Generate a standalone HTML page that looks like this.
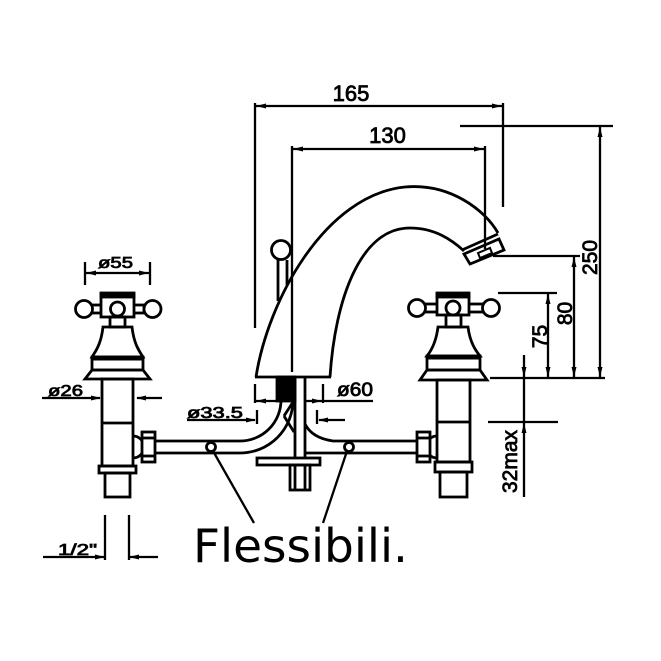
<!DOCTYPE html>
<html><head><meta charset="utf-8"><style>
html,body{margin:0;padding:0;background:#fff;}
svg{display:block;}
text{font-family:"Liberation Sans",sans-serif;fill:#000;}
</style></head><body>
<svg width="661" height="661" viewBox="0 0 661 661" xmlns="http://www.w3.org/2000/svg">
<rect width="661" height="661" fill="#fff"/>
<g fill="none" stroke="#000" stroke-width="2.8" stroke-linecap="butt" stroke-linejoin="miter">
<!-- spout body -->
<path d="M256,377 C268,300 325,195 405,187 C450,183 485,210 498,233"/>
<path d="M330,377 C335,300 360,228 410,228 C435,228 452,240 464,251"/>
<line x1="255" y1="377" x2="331" y2="377"/>
<line x1="462" y1="250" x2="498" y2="234"/>
<polygon points="464,254 499,239 504,250 470,264"/>
<polygon points="478,253 490,248 492,253 480,258" stroke-width="2"/>
<!-- lever -->
<circle cx="281" cy="250" r="9.5"/>
<line x1="278" y1="260" x2="278" y2="301"/>
<line x1="287" y1="260" x2="287" y2="285"/>
</g>
<g fill="none" stroke="#000" stroke-width="2.3">
<!-- 165 -->
<line x1="255" y1="106" x2="503" y2="106"/>
<line x1="255" y1="103" x2="255" y2="328"/>
<line x1="503" y1="103" x2="503" y2="207"/>
<!-- 130 -->
<line x1="292" y1="149" x2="485" y2="149"/>
<line x1="292" y1="146" x2="292" y2="372"/>
<line x1="485" y1="146" x2="485" y2="249"/>
<!-- top ref -->
<line x1="460" y1="126" x2="613" y2="126"/>
<!-- 250 -->
<line x1="600" y1="126" x2="600" y2="378"/>
<line x1="490" y1="378" x2="605" y2="378"/>
<!-- 80 -->
<line x1="574" y1="256" x2="574" y2="378"/>
<line x1="493" y1="256" x2="580" y2="256"/>
<!-- 75 -->
<line x1="548" y1="293" x2="548" y2="378"/>
<line x1="498" y1="293" x2="557" y2="293"/>
<!-- 32max -->
<line x1="524" y1="355" x2="524" y2="497"/>
<line x1="488" y1="422" x2="558" y2="422"/>
<!-- ø55 -->
<line x1="85" y1="273" x2="150" y2="273"/>
<line x1="85" y1="262" x2="85" y2="285"/>
<line x1="150" y1="262" x2="150" y2="285"/>
<!-- ø26 -->
<line x1="42" y1="398" x2="100" y2="398"/>
<line x1="137" y1="398" x2="162" y2="398"/>
<!-- ø33.5 -->
<line x1="187" y1="420" x2="255" y2="420"/>
<line x1="257" y1="410" x2="257" y2="424"/>
<line x1="317" y1="410" x2="317" y2="424"/>
<line x1="319" y1="420" x2="345" y2="420"/>
<!-- ø60 -->
<line x1="255" y1="384" x2="255" y2="403"/>
<line x1="323" y1="384" x2="323" y2="403"/>
<line x1="255" y1="401" x2="277" y2="401"/>
<line x1="305" y1="401" x2="373" y2="401"/>
<!-- 1/2" -->
<line x1="43" y1="557" x2="105" y2="557"/>
<line x1="105" y1="515" x2="105" y2="560"/>
<line x1="129" y1="515" x2="129" y2="560"/>
<line x1="129" y1="557" x2="158" y2="557"/>
<!-- leaders -->
<line x1="213" y1="451" x2="254" y2="523"/>
<line x1="347" y1="451" x2="323" y2="523"/>
</g>
<!-- arrowheads -->
<g fill="#000" stroke="none">
<polygon points="256,106 266,103.5 266,108.5"/>
<polygon points="502,106 492,103.5 492,108.5"/>
<polygon points="293,149 303,146.5 303,151.5"/>
<polygon points="484,149 474,146.5 474,151.5"/>
<polygon points="600,127 597.5,137 602.5,137"/>
<polygon points="600,377 597.5,367 602.5,367"/>
<polygon points="574,257 571.5,267 576.5,267"/>
<polygon points="574,377 571.5,367 576.5,367"/>
<polygon points="548,294 545.5,304 550.5,304"/>
<polygon points="548,377 545.5,367 550.5,367"/>
<polygon points="524,377 521.5,367 526.5,367"/>
<polygon points="524,423 521.5,433 526.5,433"/>
<polygon points="86,273 96,270.5 96,275.5"/>
<polygon points="149,273 139,270.5 139,275.5"/>
<polygon points="101,398 91,395.5 91,400.5"/>
<polygon points="136,398 146,395.5 146,400.5"/>
<polygon points="256,420 246,417.5 246,422.5"/>
<polygon points="318,420 328,417.5 328,422.5"/>
<polygon points="256,401 266,398.5 266,403.5"/>
<polygon points="322,401 312,398.5 312,403.5"/>
<polygon points="105,557 95,554.5 95,559.5"/>
<polygon points="129,557 139,554.5 139,559.5"/>
</g>
<g fill="none" stroke="#000" stroke-width="2.8">
<!-- central shaft -->
<rect x="277" y="377" width="18" height="24" fill="#000"/>
<line x1="295" y1="377" x2="295" y2="490"/>
<line x1="305" y1="377" x2="305" y2="490"/>
<rect x="257" y="458" width="63" height="7" fill="#fff"/>
<rect x="290" y="465" width="20" height="25"/>
<line x1="293" y1="402" x2="284" y2="416"/>
<line x1="284" y1="416" x2="294" y2="432"/>
<!-- left pipe -->
<path d="M155,441 L240,441 A41,41 0 0 0 281,400"/>
<path d="M155,453 L240,453 A53,53 0 0 0 293,400"/>
<!-- right pipe -->
<path d="M417,441 L333,441 Q312,438 305,424"/>
<line x1="417" y1="453" x2="305" y2="453"/>
<circle cx="211" cy="447" r="4.5" fill="#fff"/>
<circle cx="349" cy="447" r="4.5" fill="#fff"/>

<!-- LEFT HANDLE -->
<rect x="92" y="305" width="10" height="8"/>
<rect x="133" y="305" width="11" height="8"/>
<circle cx="84" cy="309" r="8.5" fill="#fff"/>
<circle cx="152.5" cy="309" r="8.5" fill="#fff"/>
<rect x="101" y="294" width="33" height="23" fill="#fff"/>
<rect x="101" y="293" width="33" height="4" fill="#000"/>
<circle cx="117.5" cy="309" r="7"/>
<rect x="110" y="317" width="15" height="10"/>
<path d="M103,327 L132,327 C134,345 140,352 143,357 L92,357 C95,352 101,345 103,327 Z"/>
<rect x="92" y="357" width="51" height="13"/>
<line x1="92" y1="359" x2="143" y2="359" stroke-width="3"/>
<polygon points="92,370 143,370 150,379 85,379"/>
<rect x="102" y="379" width="31" height="87"/>
<line x1="102" y1="423" x2="133" y2="423"/>
<path d="M133,436 A11,11 0 0 1 133,458"/>
<rect x="142" y="432" width="13" height="30" fill="#fff"/>
<line x1="142" y1="438" x2="155" y2="438"/>
<line x1="142" y1="456" x2="155" y2="456"/>
<rect x="99" y="466" width="37" height="7"/>
<rect x="105" y="473" width="25" height="24"/>

<!-- RIGHT HANDLE -->
<rect x="425" y="304" width="13" height="8"/>
<rect x="468" y="304" width="15" height="8"/>
<circle cx="417" cy="308" r="8.5" fill="#fff"/>
<circle cx="491" cy="308" r="8.5" fill="#fff"/>
<rect x="437" y="294" width="32" height="21" fill="#fff"/>
<rect x="437" y="293" width="32" height="4" fill="#000"/>
<circle cx="453" cy="308" r="7"/>
<rect x="446" y="315" width="15" height="12"/>
<path d="M438,327 L468,327 C470,343 476,351 480,356 L427,356 C431,351 436,343 438,327 Z"/>
<rect x="427" y="356" width="53" height="14"/>
<line x1="427" y1="358" x2="480" y2="358" stroke-width="3"/>
<polygon points="427,370 480,370 487,380 420,380"/>
<rect x="437" y="380" width="33" height="82"/>
<line x1="437" y1="422" x2="470" y2="422"/>
<path d="M437,436 A11,11 0 0 0 437,458"/>
<rect x="417" y="432" width="13" height="30" fill="#fff"/>
<line x1="417" y1="438" x2="430" y2="438"/>
<line x1="417" y1="456" x2="430" y2="456"/>
<rect x="435" y="462" width="37" height="10"/>
<rect x="440" y="472" width="27" height="25"/>
</g>

<!-- TEXT -->
<g stroke="#000" stroke-width="0.8">
<text x="351" y="101" font-size="22" text-anchor="middle">165</text>
<text x="387.5" y="143" font-size="22" text-anchor="middle">130</text>
<text transform="translate(597,257.5) rotate(-90)" font-size="21" text-anchor="middle">250</text>
<text transform="translate(572,313.5) rotate(-90)" font-size="21" text-anchor="middle">80</text>
<text transform="translate(547,336.5) rotate(-90)" font-size="21" text-anchor="middle">75</text>
<text transform="translate(517,461.5) rotate(-90)" font-size="21" text-anchor="middle" textLength="63" lengthAdjust="spacingAndGlyphs">32max</text>
<text x="98" y="268" font-size="16" textLength="35" lengthAdjust="spacingAndGlyphs">ø55</text>
<text x="48" y="396" font-size="16" textLength="35" lengthAdjust="spacingAndGlyphs">ø26</text>
<text x="187" y="418" font-size="16" textLength="56" lengthAdjust="spacingAndGlyphs">ø33.5</text>
<text x="337" y="396" font-size="19" textLength="36" lengthAdjust="spacingAndGlyphs">ø60</text>
<text x="58" y="555" font-size="16" textLength="39" lengthAdjust="spacingAndGlyphs">1/2"</text>
</g>
<text x="193" y="562" font-size="46" style="font-family:'DejaVu Sans','Liberation Sans',sans-serif" textLength="215" lengthAdjust="spacingAndGlyphs">Flessibili.</text>
</svg>
</body></html>
